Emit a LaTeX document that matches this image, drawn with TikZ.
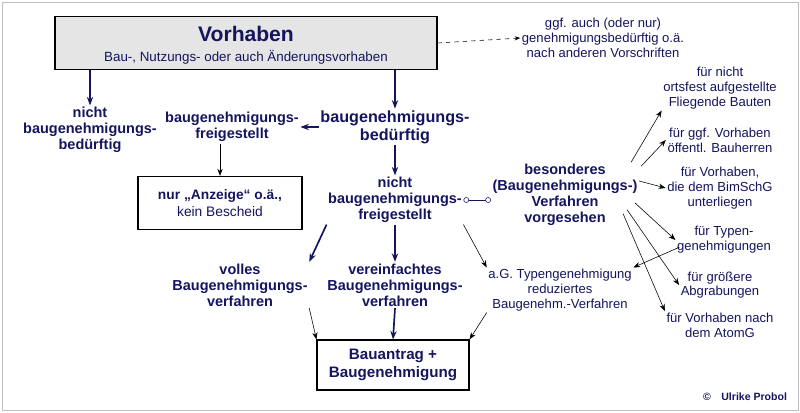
\documentclass[tikz,border=0pt]{standalone}
\usepackage{fontspec}
\setmainfont{Liberation Sans}
\usetikzlibrary{arrows.meta,positioning}
\definecolor{navy}{RGB}{20,20,95}
\tikzset{
  lbl/.style={align=center, font=\bfseries\fontsize{10.3}{11.5}\selectfont, text=navy, inner sep=1pt},
  sml/.style={align=center, font=\fontsize{9.3}{10.5}\selectfont, text=navy, inner sep=1pt},
  frame/.style={draw=black, thick, align=center, text=navy},
  main/.style={very thick, navy, -{Stealth[length=6pt]}},
  thin/.style={black, -{Stealth[length=5pt]}}
}
\begin{document}
\begin{tikzpicture}
			\useasboundingbox (0,0) rectangle (20,10.3);
			\draw[gray!50] (0.05,0.05) rectangle (19.95,10.25);
			\node[frame, fill=gray!20, minimum width=9.55cm, minimum height=1.33cm] (vorhaben) at (6.15,9.225) {};
			\node[font=\bfseries\fontsize{15}{17}\selectfont, text=navy] (vtitle) at (6.15,9.45) {Vorhaben};
			\node[sml, font=\fontsize{9.5}{10}\selectfont] (vsub) at (6.15,8.88) {Bau-, Nutzungs- oder auch Änderungsvorhaben};
			\node[sml] (andere) at (15.075,9.35) {ggf. auch (oder nur)\\genehmigungsbedürftig o.ä.\\nach anderen Vorschriften};
			
			\node[lbl] (nichtbb) at (2.25,7.05) {nicht\\baugenehmigungs-\\bedürftig};
			\node[lbl] (frei) at (5.8,7.125) {baugenehmigungs-\\freigestellt};
			\node[lbl, font=\bfseries\fontsize{11.5}{13}\selectfont] (bed) at (9.875,7.125) {baugenehmigungs-\\bedürftig};
			\node[frame, minimum width=4.1cm, minimum height=1.33cm, font=\fontsize{9.8}{12}\selectfont] (anzeige) at (5.5,5.225) {\textbf{nur „Anzeige“ o.ä.,}\\kein Bescheid};
			\node[lbl] (nichtfrei) at (9.875,5.3) {nicht\\baugenehmigungs-\\freigestellt};
			\node[lbl] (besonders) at (14.125,5.425) {besonderes\\(Baugenehmigungs-)\\Verfahren\\vorgesehen};
			
			\node[sml] (fliegend) at (18,8.1) {für nicht\\ortsfest aufgestellte\\Fliegende Bauten};
			\node[sml] (oeffentl) at (18,6.8) {für ggf. Vorhaben\\öffentl. Bauherren};
			\node[sml] (bimschg) at (18,5.6) {für Vorhaben,\\die dem BimSchG\\unterliegen};
			\node[sml] (typen) at (18.1,4.3) {für Typen-\\genehmigungen};
			\node[sml] (abgrab) at (18,3.175) {für größere\\Abgrabungen};
			\node[sml] (atomg) at (18,2.175) {für Vorhaben nach\\dem AtomG};
			
			\node[lbl] (volles) at (6,3.175) {volles\\Baugenehmigungs-\\verfahren};
			\node[lbl] (verein) at (9.875,3.175) {vereinfachtes\\Baugenehmigungs-\\verfahren};
			\node[sml] (typverf) at (14,3.05) {a.G. Typengenehmigung\\reduziertes\\Baugenehm.-Verfahren};
			\node[frame, minimum width=3.8cm, minimum height=1.25cm, font=\bfseries\fontsize{10.8}{12.5}\selectfont] (bauantrag) at (9.825,1.175) {Bauantrag +\\Baugenehmigung};
			\node[font=\bfseries\fontsize{7.5}{8}\selectfont, text=navy] (copy) at (18.625,0.375) {©\quad Ulrike Probol};
			
			\draw[thin, dashed, -{Stealth[length=4pt]}] (vorhaben.east) -- (andere.west);
			\draw[main, thick] (vorhaben.south -| nichtbb) -- (nichtbb.north);
			\draw[main] (vorhaben.south -| bed) -- (bed.north);
			\draw[main, thick] (bed.west) -- (frei.east);
			\draw[thin] (frei.south -| anzeige) -- (anzeige.north);
			\draw[main] (bed.south) -- (nichtfrei.north);
			\draw[navy, {Circle[open,length=4pt]}-{Circle[open,length=4pt]}] (nichtfrei.east) -- (besonders.west |- nichtfrei.east);
			
			\draw[thin] (besonders.north east) ++(-0.2,0) -- (fliegend.south west);
			\draw[thin] (besonders.north east) ++(0.05,-0.1) -- (oeffentl.west);
			\draw[thin] (besonders.east) ++(0,0.35) -- (bimschg.west);
			\draw[thin] (besonders.east) ++(-0.1,-0.2) -- (typen.west);
			\draw[thin] (besonders.south east) ++(-0.3,0.45) -- (abgrab.west);
			\draw[thin] (besonders.south east) ++(-0.4,0.35) -- (atomg.north west);
			\draw[thin] (typen.south west) ++(0.1,0.2) -- (typverf.north east);
			
			\draw[main] (nichtfrei.south west) -- (volles.north east);
			\draw[main] (nichtfrei.south) -- (verein.north);
			\draw[thin] (nichtfrei.south east) -- (typverf.north west);
			\draw[thin] (volles.south east) -- (bauantrag.north west);
			\draw[main] (verein.south) -- (bauantrag.north);
			\draw[thin] (typverf.south west) -- (bauantrag.north east);
		\end{tikzpicture}
\end{document}
